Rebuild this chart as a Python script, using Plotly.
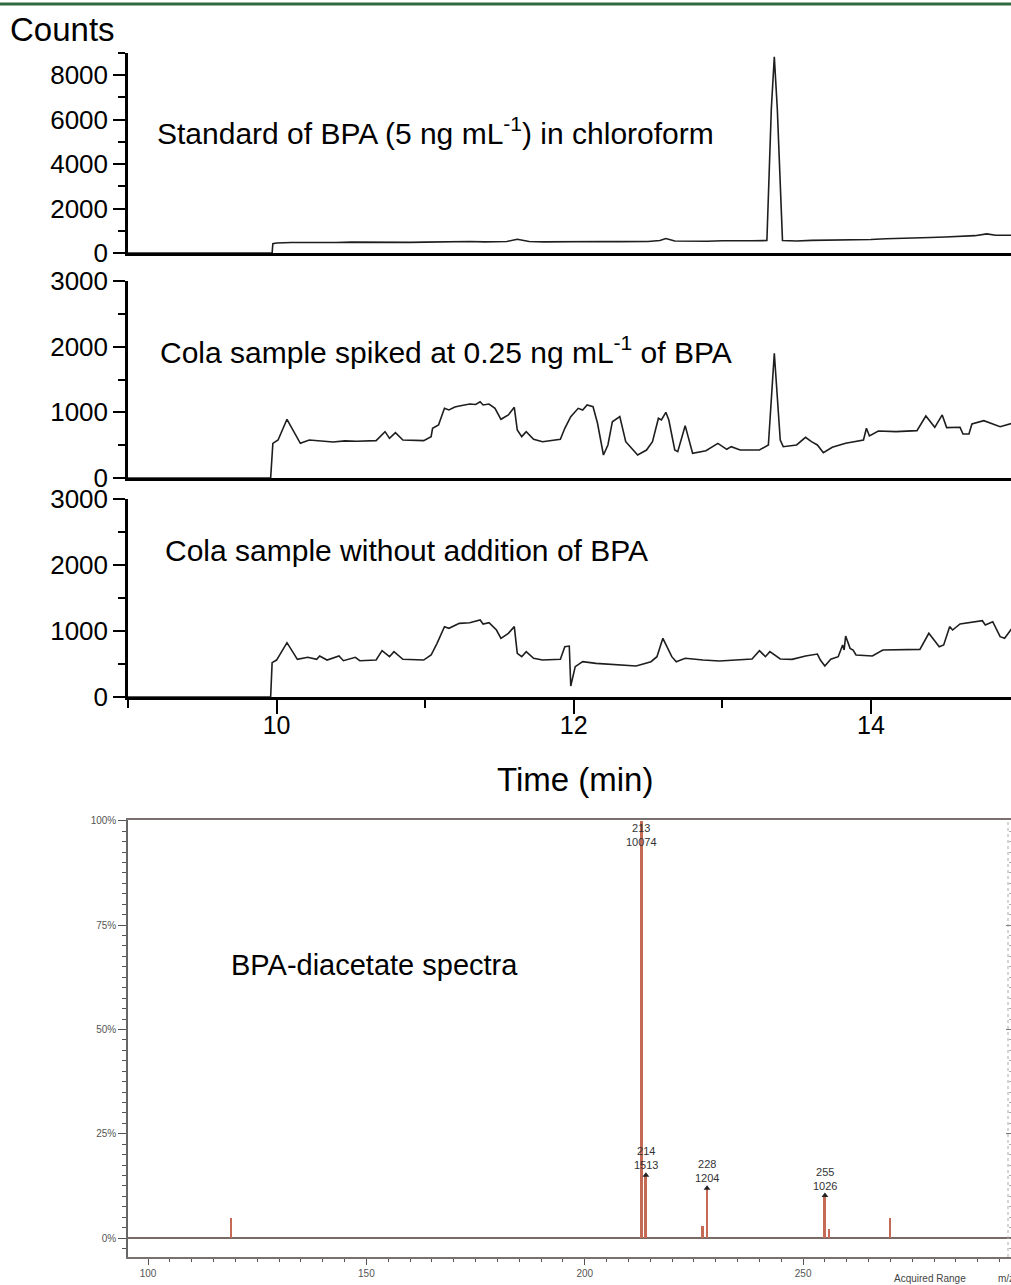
import plotly.graph_objects as go

# ---------------- Chromatogram data (time in min, counts) ----------------
std_time = [9.0, 9.97, 9.975, 10.0, 10.1, 10.2, 10.3, 10.4, 10.5, 10.6, 10.7, 10.8, 10.9, 11.0, 11.1,
            11.2, 11.3, 11.4, 11.55, 11.62, 11.7, 11.8, 11.9, 12.0, 12.1, 12.2, 12.3, 12.4, 12.5,
            12.58, 12.62, 12.68, 12.8, 12.9, 13.0, 13.1, 13.2, 13.3, 13.33, 13.35, 13.37,
            13.405, 13.5, 13.6, 13.7, 13.8, 13.9, 14.0, 14.1, 14.2, 14.3, 14.4, 14.5, 14.6,
            14.7, 14.78, 14.84, 14.95]
std_counts = [0, 0, 420, 450, 470, 460, 480, 470, 490, 480, 470, 490, 480, 490, 510,
              500, 520, 500, 520, 620, 520, 500, 510, 490, 500, 520, 510, 500, 520,
              560, 650, 540, 520, 530, 550, 540, 550, 560, 6500, 8830, 6500,
              560, 540, 570, 580, 570, 600, 610, 640, 650, 680, 700, 720, 740,
              780, 860, 800, 800]

spk_time = [9.0, 9.96, 9.975, 10.01, 10.07, 10.11, 10.16, 10.22, 10.30, 10.38, 10.46, 10.54, 10.67,
            10.73, 10.76, 10.80, 10.85, 10.99, 11.04, 11.05, 11.09, 11.13, 11.16, 11.20, 11.23,
            11.27, 11.30, 11.34, 11.37, 11.39, 11.43, 11.47, 11.51, 11.56, 11.60, 11.62, 11.65,
            11.68, 11.73, 11.79, 11.91, 11.94, 11.98, 12.03, 12.06, 12.09, 12.13, 12.16, 12.20,
            12.23, 12.26, 12.31, 12.35, 12.37, 12.43, 12.49, 12.53, 12.57, 12.59, 12.62, 12.64,
            12.68, 12.70, 12.75, 12.80, 12.89, 12.97, 13.03, 13.06, 13.12, 13.25, 13.31, 13.35,
            13.39, 13.41, 13.50, 13.56, 13.60, 13.64, 13.68, 13.74, 13.83, 13.95, 13.97, 13.99,
            14.05, 14.17, 14.31, 14.37, 14.43, 14.48, 14.51, 14.60, 14.62, 14.66, 14.68, 14.76,
            14.87, 14.95]
spk_counts = [0, 0, 528, 579, 894, 731, 528, 579, 560, 548, 565, 559, 569,
              706, 604, 691, 579, 569, 630, 757, 807, 1061, 1036, 1080, 1097,
              1110, 1127, 1120, 1162, 1112, 1127, 1061, 894, 960, 1076, 731, 630,
              706, 589, 553, 589, 757, 934, 1061, 1036, 1112, 1086, 833, 350,
              503, 857, 934, 553, 503, 350, 426, 553, 909, 883, 1000, 883,
              426, 401, 797, 376, 416, 528, 437, 477, 426, 426, 503, 1899,
              579, 477, 503, 620, 553, 503, 386, 467, 528, 579, 757, 640,
              716, 706, 721, 944, 772, 960, 767, 772, 670, 670, 822, 873,
              782, 833]

bln_time = [9.0, 9.96, 9.97, 10.00, 10.07, 10.14, 10.21, 10.27, 10.29, 10.34, 10.42, 10.45, 10.53,
            10.56, 10.67, 10.71, 10.76, 10.79, 10.85, 10.99, 11.04, 11.08, 11.13, 11.16, 11.23,
            11.30, 11.37, 11.39, 11.43, 11.48, 11.51, 11.56, 11.60, 11.62, 11.65, 11.68, 11.73,
            11.79, 11.91, 11.94, 11.97, 11.98, 12.01, 12.06, 12.15, 12.29, 12.38, 12.42, 12.52,
            12.56, 12.60, 12.66, 12.69, 12.75, 12.87, 12.98, 13.20, 13.25, 13.29, 13.32, 13.39,
            13.47, 13.56, 13.64, 13.66, 13.69, 13.73, 13.78, 13.81, 13.82, 13.83, 13.86, 13.88,
            13.90, 14.01, 14.08, 14.33, 14.39, 14.46, 14.49, 14.53, 14.55, 14.60, 14.69, 14.75,
            14.77, 14.82, 14.87, 14.90, 14.95]
bln_counts = [0, 0, 520, 560, 823, 571, 601, 571, 621, 560, 621, 550, 601,
              550, 560, 702, 611, 687, 571, 560, 636, 813, 1066, 1041, 1116,
              1126, 1167, 1106, 1126, 1015, 889, 965, 1066, 662, 611, 687, 586,
              560, 571, 762, 772, 167, 460, 535, 510, 485, 470, 470, 535,
              611, 889, 611, 535, 586, 560, 545, 576, 702, 611, 687, 576,
              570, 621, 651, 560, 470, 571, 611, 788, 712, 924, 737, 712,
              636, 621, 712, 722, 965, 762, 788, 1066, 1015, 1106, 1141, 1156,
              1091, 1141, 914, 889, 1041]

panel_labels = ["Standard of BPA (5 ng mL<sup>-1</sup>) in chloroform",
                "Cola sample spiked at 0.25 ng mL<sup>-1</sup> of BPA",
                "Cola sample without addition of BPA"]

# ---------------- Mass spectrum data (m/z, abundance) ----------------
ms_mz = [119, 213, 214, 227, 228, 255, 256, 270]
ms_abund = [480, 10074, 1513, 290, 1204, 1026, 220, 480]
lab_mz = [213, 214, 228, 255]
lab_abund = [10074, 1513, 1204, 1026]

W, H = 1011, 1285
def py(p):
    return 1 - p / H

fig = go.Figure()

line_style = dict(color="#1e1e1e", width=1.6)
fig.add_trace(go.Scatter(x=std_time, y=std_counts, mode="lines", line=line_style,
                         xaxis="x", yaxis="y", showlegend=False))
fig.add_trace(go.Scatter(x=spk_time, y=spk_counts, mode="lines", line=line_style,
                         xaxis="x2", yaxis="y2", showlegend=False))
fig.add_trace(go.Scatter(x=bln_time, y=bln_counts, mode="lines", line=line_style,
                         xaxis="x3", yaxis="y3", showlegend=False))

top = max(ms_abund)
ms_pct = [a / top * 100 for a in ms_abund]
lab_pct = [a / top * 100 for a in lab_abund]

fig.add_trace(go.Bar(x=ms_mz, y=ms_pct, width=0.45, marker=dict(color="#c46a55", line_width=0),
                     xaxis="x4", yaxis="y4", showlegend=False))
fig.add_trace(go.Scatter(x=lab_mz[1:], y=lab_pct[1:], mode="markers",
                         marker=dict(symbol="triangle-up", size=6, color="#222"),
                         xaxis="x4", yaxis="y4", showlegend=False))
# invisible trace so that the right-hand dotted scale is drawn
fig.add_trace(go.Scatter(x=[ms_mz[0]], y=[0], mode="markers", marker=dict(opacity=0),
                         xaxis="x4", yaxis="y5", showlegend=False, hoverinfo="skip"))

xdom = [128 / W, 1.0]
xr = [9.0, 14.943]
font = "Arial, Liberation Sans, sans-serif"

def chrom_x(anchor, bottom=False):
    d = dict(domain=xdom, range=xr, anchor=anchor, showline=True, linecolor="black",
             linewidth=3, showgrid=False, zeroline=False, automargin=False)
    if bottom:
        d.update(ticks="outside", tick0=10, dtick=2, ticklen=14, tickwidth=2, tickcolor="black",
                 ticklabelstandoff=-10,
                 tickfont=dict(size=25, color="black", family=font),
                 minor=dict(dtick=1, ticklen=8, tickwidth=2, ticks="outside", tickcolor="black"))
    else:
        d.update(ticks="", showticklabels=False)
    return d

def chrom_y(dom, rng, dtick, mdtick):
    return dict(domain=dom, range=rng, showline=True, linecolor="black", linewidth=2.5,
                showgrid=False, zeroline=False, ticks="outside", tick0=0, dtick=dtick,
                ticklen=12, tickwidth=2, tickcolor="black", automargin=False,
                tickfont=dict(size=26, color="black", family=font),
                minor=dict(dtick=mdtick, ticklen=7, tickwidth=2, ticks="outside", tickcolor="black"))

ms_yrange = [-4.55, 100.2]
fig.update_layout(
    width=W, height=H, autosize=False, margin=dict(l=0, r=0, t=0, b=0, pad=0),
    paper_bgcolor="white", plot_bgcolor="white",
    font=dict(family=font, color="black"),
    bargap=0,
    xaxis=chrom_x("y"),
    yaxis=chrom_y([py(253), py(53)], [0, 9000], 2000, 1000),
    xaxis2=chrom_x("y2"),
    yaxis2=chrom_y([py(478), py(281)], [0, 3000], 1000, 500),
    xaxis3=chrom_x("y3", bottom=True),
    yaxis3=chrom_y([py(697), py(499)], [0, 3000], 1000, 500),
    xaxis4=dict(domain=xdom, range=[95.42, 297.6], anchor="y4", showline=True, linecolor="#7a7070",
                linewidth=1.5, mirror=True, showgrid=False, zeroline=False, ticks="outside",
                tick0=100, dtick=50, ticklen=6, tickwidth=1, tickcolor="#555", automargin=False,
                tickfont=dict(size=10, color="#555", family=font),
                minor=dict(dtick=5, ticklen=3, tickwidth=1, ticks="outside", tickcolor="#555")),
    yaxis4=dict(domain=[py(1257), py(820)], range=ms_yrange, showline=True, linecolor="#666",
                linewidth=1.5, showgrid=False, zeroline=True, zerolinecolor="#7a6a66",
                zerolinewidth=2, ticks="outside", tick0=0, dtick=25, ticksuffix="%",
                ticklen=8, tickwidth=1, tickcolor="#555", automargin=False,
                tickfont=dict(size=10, color="#555", family=font),
                minor=dict(dtick=2.5, ticklen=4, tickwidth=1, ticks="outside", tickcolor="#555")),
    yaxis5=dict(overlaying="y4", anchor="x4", side="right", range=ms_yrange, showline=False,
                showgrid=False, zeroline=False, showticklabels=False, ticks="inside",
                tick0=0, dtick=25, ticklen=5, tickwidth=1, tickcolor="#777", automargin=False,
                minor=dict(dtick=2.5, ticklen=2, tickwidth=1, ticks="inside", tickcolor="#aaa")),
)

ann = []
ann.append(dict(text="Counts", x=8 / W, y=py(29), xref="paper", yref="paper", xanchor="left",
                yanchor="middle", showarrow=False, font=dict(size=33, color="black", family=font)))
for txt, xl, yc in zip(panel_labels, [155, 158, 163], [131, 350, 550]):
    ann.append(dict(text=txt, x=xl / W, y=py(yc), xref="paper", yref="paper", xanchor="left",
                    yanchor="middle", showarrow=False, font=dict(size=30, color="black", family=font)))
ann.append(dict(text="Time (min)", x=575 / W, y=py(780), xref="paper", yref="paper",
                xanchor="center", yanchor="middle", showarrow=False,
                font=dict(size=33, color="black", family=font)))
ann.append(dict(text="BPA-diacetate spectra", x=229 / W, y=py(965), xref="paper", yref="paper",
                xanchor="left", yanchor="middle", showarrow=False,
                font=dict(size=29, color="black", family=font)))
for mz, ab, pc in zip(lab_mz, lab_abund, lab_pct):
    if pc >= 99:
        ann.append(dict(text=f"{mz}<br>{ab}", x=mz, y=100.2, xref="x4", yref="y4", xanchor="center",
                        yanchor="top", showarrow=False, font=dict(size=11, color="#333", family=font)))
    else:
        ann.append(dict(text=f"{mz}<br>{ab}", x=mz, y=pc, xref="x4", yref="y4", xanchor="center",
                        yanchor="bottom", yshift=2, showarrow=False,
                        font=dict(size=11, color="#333", family=font)))
ann.append(dict(text="Acquired Range", x=930 / W, y=py(1278), xref="paper", yref="paper",
                xanchor="center", yanchor="middle", showarrow=False,
                font=dict(size=10, color="#444", family=font)))
ann.append(dict(text="m/z", x=996 / W, y=py(1278), xref="paper", yref="paper",
                xanchor="left", yanchor="middle", showarrow=False,
                font=dict(size=10, color="#444", family=font)))
fig.update_layout(annotations=ann)

fig.update_layout(shapes=[
    dict(type="line", xref="paper", yref="paper", x0=0, x1=1, y0=py(4), y1=py(4),
         line=dict(color="#2e6b3e", width=3)),
    dict(type="line", xref="paper", yref="y4 domain", x0=1008 / W, x1=1008 / W, y0=0, y1=1,
         line=dict(color="#aaa", width=1, dash="dot")),
])

fig.write_html("out.html")
